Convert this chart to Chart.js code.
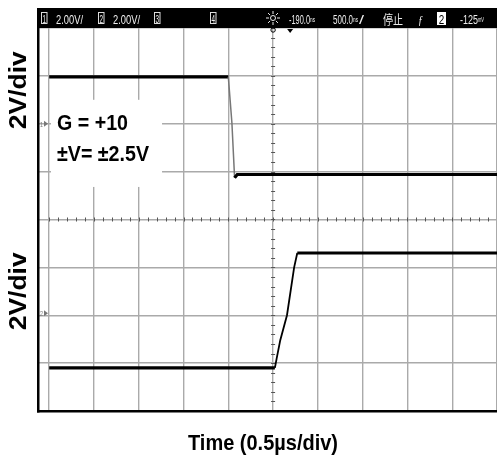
<!DOCTYPE html>
<html>
<head>
<meta charset="utf-8">
<script src="https://cdn.jsdelivr.net/npm/chart.js@4.4.1/dist/chart.umd.min.js"></script>
<style>
  html, body { margin: 0; padding: 0; background: #fff; }
  #scope { display: block; }
</style>
</head>
<body>
<canvas id="scope" width="497" height="459"></canvas>
<script>
// values in screen divisions (x: 0.5us/div, y: 2V/div)
const ch1Time = [0, 4.0, 4.04, 4.08, 4.14, 4.2, 10];
const ch1Volt = [6.98, 6.98, 6.5, 6.02, 4.87, 4.94, 4.94];
const ch2Time = [0, 5.04, 5.08, 5.16, 5.31, 5.47, 5.54, 10];
const ch2Volt = [0.9, 0.9, 1.1, 1.48, 2.0, 3.0, 3.3, 3.3];

const xDivs = [0, 1, 2, 3, 4, 5, 6, 7, 8, 9, 10];
const yDivs = [0, 1, 2, 3, 4, 5, 6, 7, 8];

const xTitle = 'Time (0.5µs/div)';
const yTitle = '2V/div';
const noteLines = ['G = +10', '±V= ±2.5V'];

// draw text squeezed/stretched to a given width
function fitText(ctx, str, x, y, font, color, width, align) {
    ctx.save();
    ctx.font = font;
    ctx.fillStyle = color;
    ctx.textBaseline = 'alphabetic';
    ctx.textAlign = align || 'left';
    var w = ctx.measureText(str).width;
    ctx.translate(x, y);
    ctx.scale(width / w, 1);
    ctx.fillText(str, 0, 0);
    ctx.restore();
}

function chBox(ctx, num, x, filled) {
    ctx.save();
    if (filled) {
        ctx.fillStyle = '#fff';
        ctx.fillRect(x, 12, 9, 13);
        fitText(ctx, num, x + 4.5, 23.5, '13px "Liberation Sans"', '#000', 5.5, 'center');
    } else {
        ctx.strokeStyle = '#ddd';
        ctx.lineWidth = 1;
        ctx.strokeRect(x + 0.5, 12.5, 5.5, 11);
        fitText(ctx, num, x + 3.2, 22.5, '11px "Liberation Sans"', '#eee', 3.5, 'center');
    }
    ctx.restore();
}

var scopeDecor = {
    id: 'scopeDecor',
    beforeDatasetsDraw: function(chart) {
        var ctx = chart.ctx, xs = chart.scales.x, ys = chart.scales.y;
        // minor ticks on the centre lines
        ctx.save();
        ctx.strokeStyle = '#555';
        ctx.lineWidth = 1;
        ctx.beginPath();
        var cx = xs.getPixelForValue(5), cy = ys.getPixelForValue(4);
        for (var v = 0; v <= 8.001; v += 0.2) {
            var py = Math.round(ys.getPixelForValue(v)) + 0.5;
            ctx.moveTo(cx - 2, py); ctx.lineTo(cx + 2, py);
        }
        for (var u = 0; u <= 10.001; u += 0.2) {
            var px = Math.round(xs.getPixelForValue(u)) + 0.5;
            ctx.moveTo(px, cy - 2); ctx.lineTo(px, cy + 2);
        }
        ctx.stroke();
        // white label panel
        ctx.fillStyle = '#fff';
        var l = xs.getPixelForValue(0.04), r = xs.getPixelForValue(2.52);
        var t = ys.getPixelForValue(6.5), b = ys.getPixelForValue(4.68);
        ctx.fillRect(l, t, r - l, b - t);
        ctx.restore();
    },
    afterDraw: function(chart) {
        var ctx = chart.ctx, area = chart.chartArea;
        var W = chart.width;
        ctx.save();
        // frame
        ctx.fillStyle = '#000';
        ctx.fillRect(37, 8, 2.5, area.bottom - 8 + 1.5);
        ctx.fillRect(37, area.bottom - 1, W - 37, 2.5);
        // header bar
        ctx.fillRect(37, 8, W - 37, area.top - 8);
        var hf = '13px "Liberation Sans"', hc = '#eeeeee';
        chBox(ctx, '1', 41, false);
        fitText(ctx, '2.00V/', 56, 23.5, hf, hc, 27);
        chBox(ctx, '2', 98, false);
        fitText(ctx, '2.00V/', 113, 23.5, hf, hc, 27);
        chBox(ctx, '3', 154, false);
        chBox(ctx, '4', 210, false);
        // sun symbol
        ctx.strokeStyle = hc;
        ctx.lineWidth = 1;
        ctx.beginPath();
        ctx.arc(273, 18, 2.5, 0, Math.PI * 2);
        for (var k = 0; k < 8; k++) {
            var a = k * Math.PI / 4;
            ctx.moveTo(273 + Math.cos(a) * 4, 18 + Math.sin(a) * 4);
            ctx.lineTo(273 + Math.cos(a) * 7, 18 + Math.sin(a) * 7);
        }
        ctx.stroke();
        fitText(ctx, '-190.0', 289, 23.5, hf, hc, 21);
        fitText(ctx, 'ns', 310, 22, '8px "Liberation Sans"', hc, 5);
        fitText(ctx, '500.0', 333, 23.5, hf, hc, 20);
        fitText(ctx, 'ns', 353, 22, '8px "Liberation Sans"', hc, 5);
        fitText(ctx, '/', 359, 23.5, hf, hc, 5);
        fitText(ctx, '停止', 383, 24, '13px "Noto Sans CJK SC"', hc, 20);
        fitText(ctx, 'ƒ', 418, 23.5, 'italic 13px "Liberation Serif"', hc, 5);
        chBox(ctx, '2', 437, true);
        fitText(ctx, '-125', 460, 23.5, hf, hc, 18);
        fitText(ctx, 'mV', 478, 22, '8px "Liberation Sans"', hc, 6);
        // trigger markers
        var tx = chart.scales.x.getPixelForValue(5);
        ctx.strokeStyle = '#000';
        ctx.beginPath();
        ctx.arc(tx, area.top + 2, 2.2, 0, Math.PI * 2);
        ctx.stroke();
        ctx.fillStyle = '#000';
        ctx.beginPath();
        ctx.moveTo(tx + 14, area.top + 1);
        ctx.lineTo(tx + 20, area.top + 1);
        ctx.lineTo(tx + 17, area.top + 5);
        ctx.closePath();
        ctx.fill();
        // channel ground markers
        var ys = chart.scales.y;
        var g1 = ys.getPixelForValue(6.0), g2 = ys.getPixelForValue(2.04);
        fitText(ctx, '1', 40, g1 + 3, '8px "Liberation Sans"', '#777', 3);
        fitText(ctx, '2', 40, g2 + 3, '8px "Liberation Sans"', '#777', 3);
        ctx.fillStyle = '#777';
        [g1, g2].forEach(function(g) {
            ctx.beginPath();
            ctx.moveTo(44, g - 3); ctx.lineTo(48, g); ctx.lineTo(44, g + 3);
            ctx.closePath();
            ctx.fill();
        });
        // annotation text
        fitText(ctx, noteLines[0], 57, 130, 'bold 22px "Liberation Sans"', '#000', 71);
        fitText(ctx, noteLines[1], 57, 161, 'bold 22px "Liberation Sans"', '#000', 92);
        // axis titles
        fitText(ctx, xTitle, 263, 450, 'bold 22px "Liberation Sans"', '#000', 150, 'center');
        [ys.getPixelForValue(6.7), ys.getPixelForValue(2.5)].forEach(function(cy) {
            ctx.save();
            ctx.translate(26, cy);
            ctx.rotate(-Math.PI / 2);
            fitText(ctx, yTitle, 0, 0, 'bold 24px "Liberation Sans"', '#000', 78, 'center');
            ctx.restore();
        });
        ctx.restore();
    }
};

function pairs(xv, yv) {
    return xv.map(function(x, i) { return { x: x, y: yv[i] }; });
}

new Chart(document.getElementById('scope'), {
    type: 'line',
    data: {
        datasets: [{
            label: 'CH1',
            data: pairs(ch1Time, ch1Volt),
            borderColor: '#000',
            borderWidth: 3.2,
            pointRadius: 0,
            tension: 0,
            segment: {
                borderColor: function(c) { return (c.p0.parsed.x >= 4.0 && c.p1.parsed.x <= 4.14) ? '#777' : undefined; },
                borderWidth: function(c) { return (c.p0.parsed.x >= 4.0 && c.p1.parsed.x <= 4.14) ? 1.5 : undefined; }
            }
        }, {
            label: 'CH2',
            data: pairs(ch2Time, ch2Volt),
            borderColor: '#000',
            borderWidth: 3.2,
            pointRadius: 0,
            tension: 0,
            segment: {
                borderWidth: function(c) { return (c.p0.parsed.x >= 5.04 && c.p1.parsed.x <= 5.54) ? 1.8 : undefined; }
            }
        }]
    },
    options: {
        responsive: false,
        animation: false,
        layout: { padding: { left: 38, right: 0, top: 28, bottom: 48 } },
        plugins: { legend: { display: false }, tooltip: { enabled: false } },
        scales: {
            x: {
                type: 'linear',
                min: -0.25,
                max: 10,
                afterBuildTicks: function(s) { s.ticks = xDivs.map(function(v) { return { value: v }; }); },
                ticks: { display: false },
                grid: { color: '#aaaaaa', lineWidth: 1.4, drawTicks: false },
                border: { display: false }
            },
            y: {
                type: 'linear',
                min: 0,
                max: 8,
                afterBuildTicks: function(s) { s.ticks = yDivs.map(function(v) { return { value: v }; }); },
                ticks: { display: false },
                grid: { color: '#aaaaaa', lineWidth: 1.4, drawTicks: false },
                border: { display: false }
            }
        }
    },
    plugins: [scopeDecor]
});
</script>
</body>
</html>
